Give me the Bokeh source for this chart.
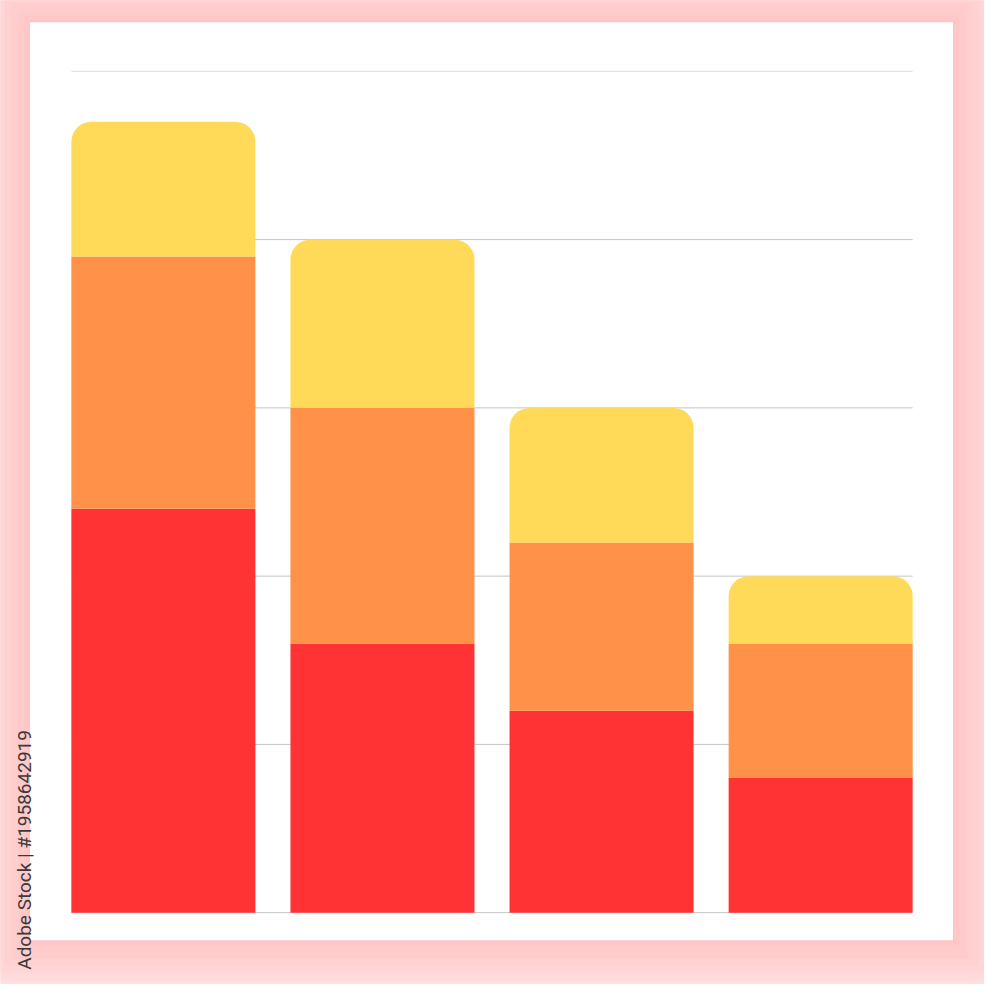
from bokeh.plotting import figure
from bokeh.models import Range1d, BoxAnnotation, Label, ColumnDataSource
from bokeh.embed import file_html
from bokeh.resources import INLINE
import math

# Data
positions = [0, 1, 2, 3]
red_vals = [2.4, 1.6, 1.2, 0.8]
orange_vals = [1.5, 1.4, 1.0, 0.8]
yellow_vals = [0.8, 1.0, 0.8, 0.4]
grid_ticks = [0, 1, 2, 3, 4, 5]

red_top = red_vals
orange_top = [r + o for r, o in zip(red_vals, orange_vals)]
yellow_top = [t + y for t, y in zip(orange_top, yellow_vals)]

src = ColumnDataSource(dict(x=positions, r0=[0] * len(positions), r1=red_top, o1=orange_top, y1=yellow_top))

W = H = 984
S = W / 1000.0          # reference pixel -> figure pixel
bw = 0.84
# plot area in reference pixels
PL, PR, PT, PB = 72, 927, 72, 927
x_lo, x_hi = positions[0] - bw / 2, positions[-1] + bw / 2
y_lo, y_hi = grid_ticks[0], grid_ticks[-1]
ppx = (PR - PL) * S / (x_hi - x_lo)
ppy = (PB - PT) * S / (y_hi - y_lo)
x_range = Range1d(x_lo - PL * S / ppx, x_hi + (1000 - PR) * S / ppx)
y_range = Range1d(y_lo - (1000 - PB) * S / ppy, y_hi + PT * S / ppy)

p = figure(width=W, height=H, output_backend="svg", toolbar_location=None,
           x_range=x_range, y_range=y_range,
           min_border=0, min_border_left=0, min_border_right=0, min_border_top=0, min_border_bottom=0)
p.axis.visible = False
p.grid.visible = False
p.outline_line_color = None
p.background_fill_color = "#ffdede"
p.border_fill_color = "#ffdede"


def sbox(l, r, t, b, color):
    # reference pixels (y from top) -> screen units (y from bottom)
    return BoxAnnotation(left=l * S, right=r * S, top=H - t * S, bottom=H - b * S,
                         left_units="screen", right_units="screen",
                         top_units="screen", bottom_units="screen",
                         fill_color=color, fill_alpha=1, line_color=None, level="underlay")


# white panel with a soft pink shadow around it (reference pixels)
QL, QR, QT, QB = 30, 968, 22, 955
shades = [(40, "#ffdada"), (33, "#ffd6d6"), (26, "#ffd1d1"), (19, "#ffcdcd"),
          (12, "#ffcaca"), (6, "#ffc7c7"), (2, "#ffc4c4")]
for d, c in shades:
    p.add_layout(sbox(QL - d, QR + d, QT - d, QB + d, c))
p.add_layout(sbox(QL, QR, QT, QB, "white"))

# horizontal grid lines across the bar area
grid_colors = ["#c4c4c4"] * (len(grid_ticks) - 1) + ["#dedede"]
p.segment(x0=[x_lo] * len(grid_ticks), x1=[x_hi] * len(grid_ticks), y0=grid_ticks, y1=grid_ticks,
          line_color=grid_colors, line_width=1)

p.vbar(x="x", bottom="r0", top="r1", width=bw, source=src, fill_color="#ff3333", line_color=None)
p.vbar(x="x", bottom="r1", top="o1", width=bw, source=src, fill_color="#ff9148", line_color=None)
radius = int(round(20 * S))
p.vbar(x="x", bottom="o1", top="y1", width=bw, source=src, fill_color="#ffda58", line_color=None,
       border_radius=(radius, radius, 0, 0))

p.add_layout(Label(x=24 * S, y=15 * S, x_units="screen", y_units="screen", text="Adobe Stock | #1958642919",
                   angle=math.pi / 2, text_font="Roboto", text_font_size="19px", text_font_style="normal",
                   text_color="#3a3a3a", text_align="left", text_baseline="middle"))

open("out.html", "w").write(file_html(p, INLINE))
